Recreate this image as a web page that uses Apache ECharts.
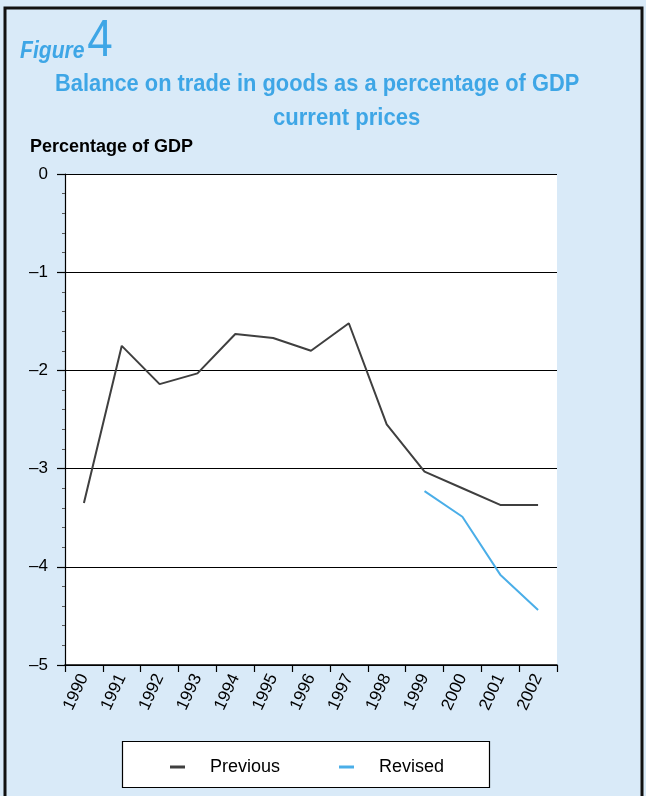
<!DOCTYPE html>
<html>
<head>
<meta charset="utf-8">
<script src="https://cdn.jsdelivr.net/npm/echarts@6/dist/echarts.min.js"></script>
<style>
  html, body { margin: 0; padding: 0; background: #fff; }
  #chart { width: 646px; height: 796px; }
</style>
</head>
<body>
<div id="chart"></div>
<script>
// data
const years = ['1990', '1991', '1992', '1993', '1994', '1995', '1996', '1997', '1998', '1999', '2000', '2001', '2002']
const previous = [-3.35, -1.75, -2.14, -2.03, -1.63, -1.67, -1.80, -1.52, -2.55, -3.03, -3.20, -3.37, -3.37]
const revised = [null, null, null, null, null, null, null, null, null, -3.23, -3.49, -4.08, -4.44]
const yTicks = [0, -1, -2, -3, -4, -5]

const blue = '#3ea6e6'
const sans = '"Liberation Sans", Arial, sans-serif'

const chart = echarts.init(document.getElementById('chart'))

chart.setOption({
  backgroundColor: '#d9eaf8',
  animation: false,
  graphic: [
    // frame round the figure
    { type: 'rect', shape: { x: 5, y: 8, width: 637, height: 800 }, style: { fill: null, stroke: '#111', lineWidth: 3 } },
    // legend box
    { type: 'rect', shape: { x: 122.5, y: 741.5, width: 367, height: 46 }, style: { fill: '#fff', stroke: '#000', lineWidth: 1.2 }, z: 0 },
    {
      type: 'text', x: 20, y: 16, scaleX: 0.88,
      style: {
        text: '{a|Figure}{b|4}',
        rich: {
          a: { fontFamily: sans, fontStyle: 'italic', fontWeight: 'bold', fontSize: 24, fill: blue, padding: [18, 3, 0, 0] },
          b: { fontFamily: sans, fontSize: 52, fill: blue }
        }
      }
    },
    {
      type: 'text', x: 55, y: 72, scaleX: 0.91,
      style: { text: 'Balance on trade in goods as a percentage of GDP', fontFamily: sans, fontWeight: 'bold', fontSize: 24, fill: blue }
    },
    {
      type: 'text', x: 273, y: 106, scaleX: 0.92,
      style: { text: 'current prices', fontFamily: sans, fontWeight: 'bold', fontSize: 24, fill: blue }
    },
    {
      type: 'text', x: 30, y: 138,
      style: { text: 'Percentage of GDP', fontFamily: sans, fontWeight: 'bold', fontSize: 18, fill: '#000' }
    }
  ],
  grid: { left: 65, right: 89, top: 174, bottom: 131, backgroundColor: '#fff', show: true, borderWidth: 0 },
  legend: {
    top: 753, left: 165, itemGap: 59,
    icon: 'rect', itemWidth: 15, itemHeight: 3,
    textStyle: { fontFamily: sans, fontSize: 18, color: '#000', padding: [0, 0, 0, 20] },
    data: ['Previous', 'Revised']
  },
  xAxis: {
    type: 'category',
    data: years,
    boundaryGap: true,
    axisLine: { onZero: false, lineStyle: { color: '#000', width: 1.5 } },
    axisTick: { show: true, length: 7, lineStyle: { color: '#000', width: 1.2 } },
    axisLabel: { rotate: 65, fontFamily: sans, fontSize: 17, color: '#000', margin: 10 }
  },
  yAxis: {
    type: 'value',
    min: yTicks[yTicks.length - 1], max: yTicks[0], interval: 1,
    axisLine: { show: true, lineStyle: { color: '#000', width: 1.2 } },
    axisTick: { show: true, length: 8, lineStyle: { color: '#000', width: 1.2 } },
    minorTick: { show: true, splitNumber: 5, length: 3, lineStyle: { color: '#555', width: 1 } },
    splitLine: { show: true, lineStyle: { color: '#000', width: 1.2 } },
    axisLabel: {
      fontFamily: sans, fontSize: 17, color: '#000', margin: 17,
      formatter: v => (v === 0 ? '0' : '\u2013' + Math.abs(v))
    }
  },
  series: [
    {
      name: 'Previous', type: 'line', data: previous, symbol: 'none',
      itemStyle: { color: '#3f3f3f' }, lineStyle: { color: '#3f3f3f', width: 2 }
    },
    {
      name: 'Revised', type: 'line', data: revised, symbol: 'none',
      itemStyle: { color: '#4aaee8' }, lineStyle: { color: '#4aaee8', width: 2 }
    }
  ]
})
</script>
</body>
</html>
